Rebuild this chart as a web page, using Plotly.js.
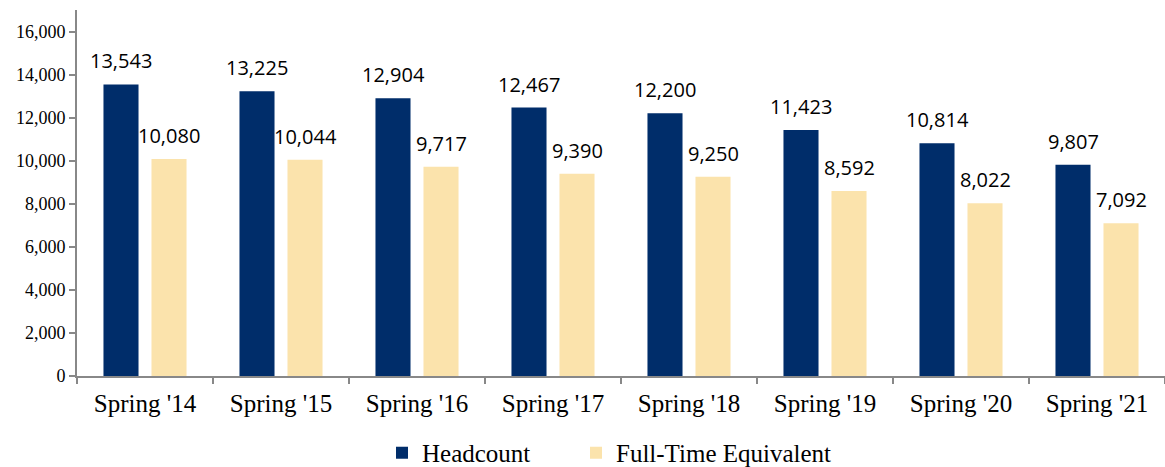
<!DOCTYPE html>
<html>
<head>
<meta charset="utf-8">
<script src="https://cdn.plot.ly/plotly-3.0.1.min.js"></script>
<style>html,body{margin:0;padding:0;background:#fff;}#chart{width:1165px;height:467px;}</style>
</head>
<body>
<div id="chart"></div>
<script>
const categories = ["Spring '14","Spring '15","Spring '16","Spring '17","Spring '18","Spring '19","Spring '20","Spring '21"];
const headcount = [13543, 13225, 12904, 12467, 12200, 11423, 10814, 9807];
const fte = [10080, 10044, 9717, 9390, 9250, 8592, 8022, 7092];
const yTicks = [0, 2000, 4000, 6000, 8000, 10000, 12000, 14000, 16000];

const fmt = v => v.toLocaleString('en-US');
const serif = "Liberation Serif";
const sans = "Open Sans";

const traces = [
  {type:'bar', name:'Headcount', x:categories, y:headcount, marker:{color:'#002D6A'}, hoverinfo:'none', legend:'legend'},
  {type:'bar', name:'Full-Time Equivalent', x:categories, y:fte, marker:{color:'#FBE3AC'}, hoverinfo:'none', legend:'legend2'}
];

const annotations = [];
categories.forEach((c,i)=>{
  annotations.push({x:c, y:headcount[i], text:fmt(headcount[i]), xref:'x', yref:'y', showarrow:false, xshift:-24, yanchor:'bottom', yshift:8, font:{family:sans, size:20, color:'#000'}});
  annotations.push({x:c, y:fte[i], text:fmt(fte[i]), xref:'x', yref:'y', showarrow:false, xshift:24, yanchor:'bottom', yshift:8, font:{family:sans, size:20, color:'#000'}});
});

const legendBase = {orientation:'h', xref:'container', xanchor:'left', yref:'container', y:0.03, yanchor:'middle', font:{family:serif, size:25, color:'#000'}, itemwidth:30, bgcolor:'rgba(0,0,0,0)'};

const layout = {
  width:1165, height:467,
  margin:{l:77, r:0, t:10, b:91, autoexpand:false},
  paper_bgcolor:'#fff', plot_bgcolor:'#fff',
  barmode:'group', bargap:0.294, bargroupgap:0.27,
  showlegend:true,
  legend:Object.assign({}, legendBase, {x:(382)/1165}),
  legend2:Object.assign({}, legendBase, {x:(576)/1165}),
  xaxis:{type:'category', showline:true, linecolor:'#888', linewidth:2, ticks:'outside', tickson:'boundaries', ticklen:6, tickcolor:'#888', tickwidth:2, tickfont:{family:serif, size:25, color:'#000'}, ticklabelstandoff:4, showgrid:false, zeroline:false, fixedrange:true, automargin:false},
  yaxis:{range:[0,17000], tickvals:yTicks, ticktext:yTicks.map(fmt), showline:true, linecolor:'#888', linewidth:2, ticks:'outside', ticklen:6, tickcolor:'#888', tickwidth:2, tickfont:{family:serif, size:18, color:'#000'}, showgrid:false, zeroline:false, fixedrange:true, automargin:false},
  annotations:annotations
};

Plotly.newPlot('chart', traces, layout, {displayModeBar:false, staticPlot:true});
</script>
</body>
</html>
